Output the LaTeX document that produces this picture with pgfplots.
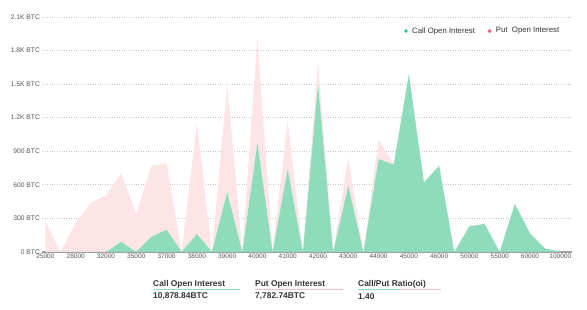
\documentclass[border=0pt]{standalone}
\usepackage{fontspec}
\setmainfont{Liberation Sans}
\usepackage{pgfplots}
\pgfplotsset{compat=1.18}
\usepackage{pgfplotstable}
\definecolor{callc}{HTML}{8FDCBC}
\definecolor{putc}{HTML}{FCE4E7}
\definecolor{calldot}{HTML}{3CC68A}
\definecolor{putdot}{HTML}{EE5A75}
\definecolor{txt}{HTML}{555555}
\definecolor{dark}{HTML}{333333}

% idx call put (put stacked on top of call)
\pgfplotstableread{
idx call put
0 0 270
1 0 0
2 0 260
3 0 440
4 0 505
5 90 610
6 0 340
7 135 635
8 200 590
9 0 0
10 160 985
11 0 0
12 535 965
13 0 0
14 975 940
15 0 0
16 740 430
17 0 0
18 1500 190
19 0 0
20 590 250
21 0 0
22 830 170
23 780 10
24 1590 0
25 620 0
26 770 0
27 0 0
28 230 0
29 250 0
30 0 0
31 430 0
32 165 0
33 30 0
34 3 0
}\oidata

\begin{document}
\begin{tikzpicture}[x=1pt,y=1pt]
\useasboundingbox (0,0) rectangle (587,310);
\begin{axis}[
  name=ax,
  at={(30,51.9)}, anchor=origin,
  scale only axis, width=530pt, height=235pt,
  xmin=-0.2, xmax=34.8, ymin=0, ymax=2100,
  stack plots=y,
  axis lines*=left,
  axis line style={-},
  y axis line style={draw=none},
  x axis line style={draw=black!38, line width=1.2pt},
  major tick length=0pt,
  ytick={0,300,...,2100},
  yticklabels={0 BTC,300 BTC,600 BTC,900 BTC,1.2K BTC,1.5K BTC,1.8K BTC,2.1K BTC},
  xtick={0,2,...,34},
  xticklabels={25000,28000,32000,35000,37000,38000,39000,40000,41000,42000,43000,44000,45000,46000,50000,55000,60000,100000},
  ymajorgrids,
  grid style={dotted, black!22, line width=0.6pt},
  tick label style={text=txt},
  yticklabel style={font=\fontsize{6.7}{7}\selectfont, xshift=1pt},
  xticklabel style={font=\fontsize{6.5}{7}\selectfont, yshift=1pt},
  legend style={at={(0.985,0.94)}, anchor=east, draw=none, fill=none,
    font=\fontsize{7.8}{9}\selectfont, text=dark,
    /tikz/every odd column/.append style={column sep=2.5pt},
    /tikz/every even column/.append style={column sep=11pt}},
  legend columns=2,
  legend cell align=left,
]
\addlegendimage{only marks, mark=*, mark size=1.7pt, color=calldot}
\addlegendentry{Call Open Interest}
\addlegendimage{only marks, mark=*, mark size=1.7pt, color=putdot}
\addlegendentry{Put\ \ Open Interest}
\addplot[fill=callc, draw=none, forget plot] table[x=idx,y=call]{\oidata} \closedcycle;
\addplot[fill=putc, draw=none, forget plot] table[x=idx,y=put]{\oidata} \closedcycle;
\end{axis}

\begin{scope}[every node/.style={anchor=west, inner sep=0pt, text=dark, font=\bfseries\fontsize{8.4}{10}\selectfont}]
\node at (153,25.5) {Call Open Interest};
\draw[callc, line width=1pt] (153,20.5) -- (240,20.5);
\node at (153,13.5) {10,878.84BTC};
\node at (255,25.5) {Put Open Interest};
\draw[putc!70!putdot, line width=1pt] (255,20.5) -- (343,20.5);
\node at (255,13.5) {7,782.74BTC};
\node at (358,25.5) {Call/Put Ratio(oi)};
\draw[callc, line width=1pt] (358,20.5) -- (400,20.5);
\draw[putc!70!putdot, line width=1pt] (400,20.5) -- (441,20.5);
\node at (358,13.5) {1.40};
\end{scope}
\end{tikzpicture}
\end{document}
